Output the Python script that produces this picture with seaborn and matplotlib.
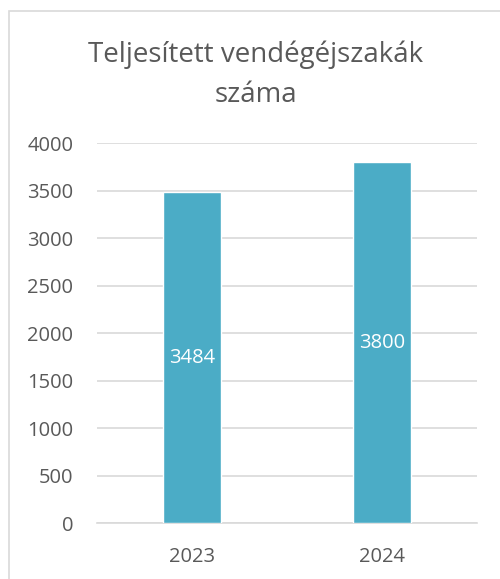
import matplotlib
matplotlib.use("Agg")
import matplotlib.pyplot as plt
import seaborn as sns
import pandas as pd
from matplotlib.patches import Rectangle

years = ["2023", "2024"]
values = [3484, 3800]
title = "Teljesített vendégéjszakák\nszáma"
yticks = [0, 500, 1000, 1500, 2000, 2500, 3000, 3500, 4000]

sns.set_style("white")
plt.rcParams['font.family'] = ['Open Sans', 'DejaVu Sans']

df = pd.DataFrame({"year": years, "value": values})

fig = plt.figure(figsize=(5.0, 5.79), dpi=100)
ax = fig.add_axes([0.194, 0.0967, 0.76, 0.6563])

sns.barplot(data=df, x="year", y="value", color="#4BACC6", width=0.31,
            saturation=1, ax=ax, zorder=3)

ax.set_ylim(0, 4000)
ax.set_yticks(yticks)
ax.set_xlim(-0.5, 1.5)
ax.yaxis.grid(True, color="#D9D9D9", linewidth=1.2, zorder=0)
ax.set_axisbelow(True)
for s in ["top", "right", "left"]:
    ax.spines[s].set_visible(False)
ax.spines["bottom"].set_color("#D9D9D9")
ax.spines["bottom"].set_linewidth(1.2)
ax.tick_params(axis="both", length=0, labelsize=14.5, colors="#595959")
ax.tick_params(axis="y", pad=17)
ax.tick_params(axis="x", pad=17)
ax.set_xlabel("")
ax.set_ylabel("")

for i, v in enumerate(values):
    ax.text(i, v / 2, str(v), ha="center", va="center", color="white", fontsize=14.5)

fig.text(0.512, 0.871, title, ha="center", va="center", fontsize=20,
         color="#595959", linespacing=1.6)

fig.patches.append(Rectangle((8.5 / 500, -0.1), 1.2, 1.1 - 10.5 / 579,
                             transform=fig.transFigure, fill=False,
                             edgecolor="#D9D9D9", linewidth=1.2))

fig.savefig("out.png", dpi=100, facecolor="white")
